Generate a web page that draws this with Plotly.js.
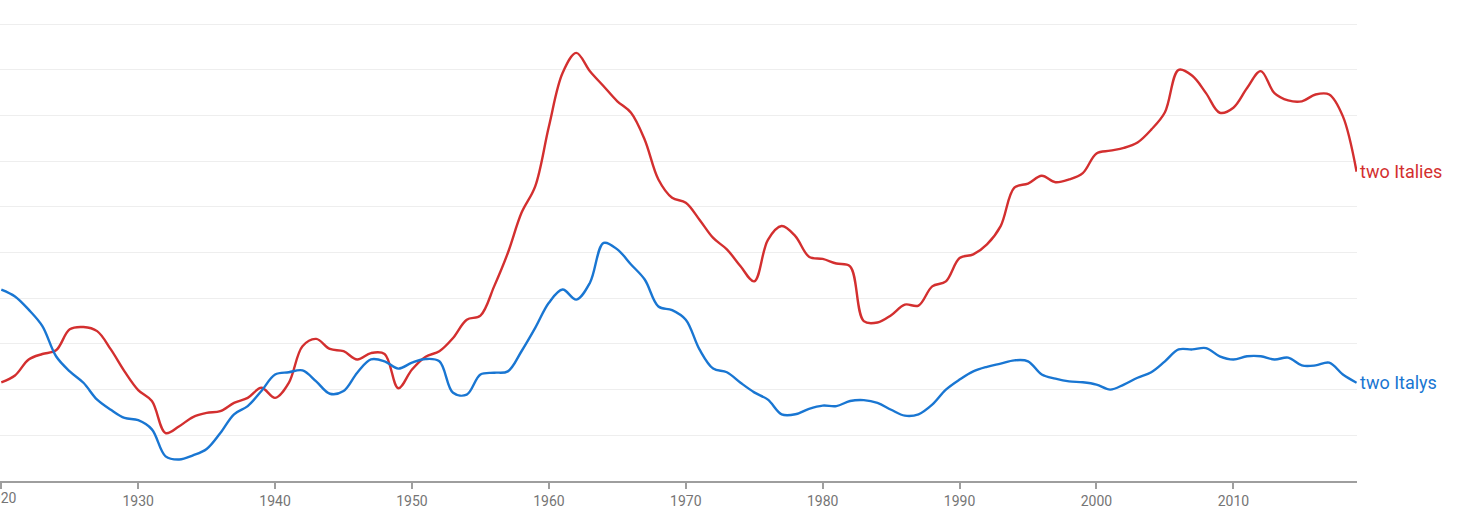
<!DOCTYPE html>
<html>
<head>
<meta charset="utf-8">
<script src="https://cdn.plot.ly/plotly-3.0.1.min.js"></script>
<style>html,body{margin:0;padding:0;background:#fff;}#chart{width:1461px;height:517px;}</style>
</head>
<body>
<div id="chart"></div>
<script>
const years = [];
for (let y = 1920; y <= 2019; y++) years.push(y);

const twoItalies = [
  2.16, 2.31, 2.66, 2.78, 2.86, 3.32, 3.37, 3.28, 2.88, 2.40,
  1.99, 1.75, 1.05, 1.20, 1.40, 1.49, 1.53, 1.71, 1.82, 2.04,
  1.82, 2.15, 2.95, 3.11, 2.89, 2.84, 2.66, 2.80, 2.78, 2.03,
  2.44, 2.72, 2.84, 3.13, 3.53, 3.62, 4.26, 4.99, 5.87, 6.45,
  7.76, 8.93, 9.37, 8.97, 8.64, 8.31, 8.06, 7.47, 6.60, 6.20,
  6.09, 5.72, 5.32, 5.07, 4.70, 4.37, 5.28, 5.58, 5.36, 4.91,
  4.86, 4.76, 4.70, 3.50, 3.47, 3.63, 3.86, 3.84, 4.26, 4.37,
  4.88, 4.96, 5.18, 5.58, 6.42, 6.51, 6.68, 6.54, 6.60, 6.74,
  7.17, 7.23, 7.29, 7.41, 7.69, 8.07, 9.00, 8.87, 8.49, 8.06,
  8.17, 8.60, 8.97, 8.49, 8.33, 8.31, 8.46, 8.46, 7.98, 6.77
];

const twoItalys = [
  4.19, 4.04, 3.75, 3.39, 2.73, 2.40, 2.15, 1.78, 1.56, 1.38,
  1.33, 1.13, 0.54, 0.47, 0.56, 0.70, 1.05, 1.46, 1.64, 1.97,
  2.33, 2.38, 2.42, 2.18, 1.91, 1.97, 2.37, 2.66, 2.62, 2.46,
  2.59, 2.67, 2.62, 1.93, 1.89, 2.33, 2.37, 2.40, 2.84, 3.35,
  3.90, 4.19, 3.97, 4.34, 5.21, 5.07, 4.74, 4.41, 3.82, 3.74,
  3.53, 2.88, 2.46, 2.38, 2.15, 1.94, 1.78, 1.46, 1.46, 1.58,
  1.65, 1.64, 1.75, 1.77, 1.71, 1.56, 1.43, 1.46, 1.67, 2.00,
  2.22, 2.40, 2.50, 2.57, 2.64, 2.62, 2.33, 2.24, 2.18, 2.16,
  2.11, 2.00, 2.11, 2.26, 2.38, 2.62, 2.88, 2.88, 2.91, 2.73,
  2.66, 2.73, 2.73, 2.66, 2.70, 2.53, 2.53, 2.59, 2.33, 2.15
];

const seriesNames = ['two Italies', 'two Italys'];
const seriesColors = ['#D32F2F', '#1976D2'];
const tickYears = [1920, 1930, 1940, 1950, 1960, 1970, 1980, 1990, 2000, 2010];

const allSeries = [twoItalies, twoItalys];
const traces = allSeries.map((vals, i) => ({
  x: years, y: vals, type: 'scatter', mode: 'lines',
  name: seriesNames[i],
  line: {color: seriesColors[i], width: 2.4, shape: 'spline', smoothing: 1},
  hoverinfo: 'x+y+name', cliponaxis: false
}));

const annotations = allSeries.map((vals, i) => ({
  x: years[years.length - 1], y: vals[vals.length - 1],
  xref: 'x', yref: 'y', text: seriesNames[i], showarrow: false,
  xanchor: 'left', yanchor: 'middle', xshift: 1,
  font: {family: 'Roboto, sans-serif', size: 18, color: seriesColors[i]}
}));
// first tick label sits at the very left edge and is partly cut off
annotations.push({
  x: tickYears[0], y: 0, xref: 'x', yref: 'paper', text: String(tickYears[0]),
  showarrow: false, xanchor: 'center', yanchor: 'top', yshift: -7,
  font: {family: 'Roboto, sans-serif', size: 14, color: '#757575'}
});

const layout = {
  width: 1461, height: 517,
  margin: {l: 0, r: 104, t: 20, b: 36, pad: 0},
  paper_bgcolor: '#ffffff', plot_bgcolor: '#ffffff',
  showlegend: false,
  font: {family: 'Roboto, sans-serif'},
  xaxis: {
    range: [1919.905, 2019.03], tickvals: tickYears,
    ticktext: tickYears.map((t, i) => i === 0 ? '' : String(t)),
    showgrid: false, zeroline: false,
    showline: true, linecolor: '#9e9e9e', linewidth: 2,
    ticks: 'outside', ticklen: 6, tickwidth: 2, tickcolor: '#9e9e9e',
    tickfont: {family: 'Roboto, sans-serif', size: 14, color: '#757575'}
  },
  yaxis: {
    range: [0, 10.09], dtick: 1, tick0: 0,
    showgrid: true, gridcolor: '#eeeeee', gridwidth: 1,
    zeroline: false, showline: false, showticklabels: false, ticks: ''
  },
  annotations: annotations
};

Plotly.newPlot('chart', traces, layout, {displayModeBar: false, staticPlot: true});
</script>
</body>
</html>
